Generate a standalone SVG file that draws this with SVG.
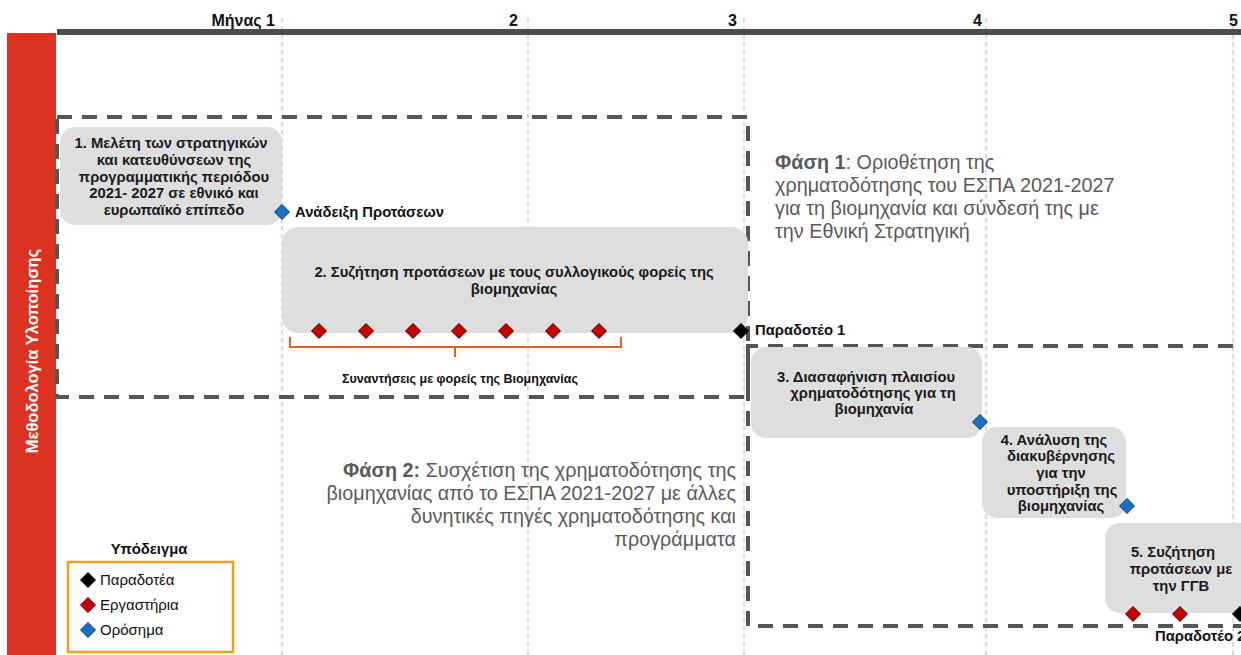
<svg xmlns="http://www.w3.org/2000/svg" width="1241" height="655" viewBox="0 0 1241 655">
<style>
.grid{stroke:#d4aab4;stroke-width:1;stroke-dasharray:5 3;fill:none}
.phase{stroke:#555;stroke-width:4;stroke-dasharray:15 10;fill:none}
.node{fill:#dedede}
.nt{font-family:"Liberation Sans",Arial,sans-serif;font-weight:bold;font-size:14.8px;fill:#1a1a1a;text-anchor:middle}
.lbl{font-family:"Liberation Sans",Arial,sans-serif;font-weight:bold;font-size:14.8px;fill:#111}
.small{font-size:12.5px}
.mon{font-family:"Liberation Sans",Arial,sans-serif;font-weight:bold;font-size:16px;fill:#111;text-anchor:end}
.ph{font-family:"Liberation Sans",Arial,sans-serif;font-size:19.8px;fill:#5a5a5a}
.leg{font-family:"Liberation Sans",Arial,sans-serif;font-size:15px;fill:#111}
.blue{fill:#1a6fc4;stroke:#0d3a6a;stroke-width:1}
.red{fill:#c40000;stroke:#4a0000;stroke-width:1}
.blk{fill:#000;stroke:#000;stroke-width:1}
</style>
<defs>
<path id="dm" d="M0,-7.5 L7.5,0 L0,7.5 L-7.5,0 Z"/>
</defs>
<rect width="1241" height="655" fill="#fff"/>

<g id="timeline">
<line class="grid" x1="282" y1="18" x2="282" y2="655"/>
<line class="grid" x1="528" y1="18" x2="528" y2="655"/>
<line class="grid" x1="744" y1="18" x2="744" y2="655"/>
<line class="grid" x1="986" y1="18" x2="986" y2="655"/>
<line class="grid" x1="1233" y1="18" x2="1233" y2="655"/>
<rect x="57" y="29" width="1184" height="6" fill="#4d4d4d"/>
<text class="mon" x="275" y="26">Μήνας 1</text>
<text class="mon" x="518" y="26">2</text>
<text class="mon" x="737" y="26">3</text>
<text class="mon" x="982" y="26">4</text>
<text class="mon" x="1238" y="26">5</text>
</g>

<g id="sidebar">
<rect x="7" y="33" width="49" height="622" fill="#dc3222"/>
<text x="38" y="351" transform="rotate(-90 38 351)" font-family="Liberation Sans,Arial,sans-serif" font-weight="bold" font-size="16.5" fill="#fff" text-anchor="middle">Μεθοδολογία Υλοποίησης</text>
</g>

<g id="connectors">
<path class="phase" d="M57,117 H748 V397 H57 Z"/>
<path class="phase" d="M1233,346 H748 V626 H1241"/>
<path d="M290,337 V347 H621 V337 M455,347 V357" fill="none" stroke="#e0601e" stroke-width="2"/>
</g>

<g id="phase1">
<text class="ph" x="775" y="169"><tspan font-weight="bold">Φάση 1</tspan>: Οριοθέτηση της</text>
<text class="ph" x="775" y="192">χρηματοδότησης του ΕΣΠΑ 2021-2027</text>
<text class="ph" x="775" y="215">για τη βιομηχανία και σύνδεσή της με</text>
<text class="ph" x="775" y="238">την Εθνική Στρατηγική</text>
</g>

<g id="phase2">
<text class="ph" x="736" y="477" text-anchor="end"><tspan font-weight="bold">Φάση 2:</tspan> Συσχέτιση της χρηματοδότησης της</text>
<text class="ph" x="736" y="500" text-anchor="end">βιομηχανίας από το ΕΣΠΑ 2021-2027 με άλλες</text>
<text class="ph" x="736" y="523" text-anchor="end">δυνητικές πηγές χρηματοδότησης και</text>
<text class="ph" x="736" y="546" text-anchor="end">προγράμματα</text>
</g>

<g id="node1">
<rect class="node" x="60" y="127" width="222" height="98" rx="15"/>
<text class="nt" x="171" y="148">1. Μελέτη των στρατηγικών</text>
<text class="nt" x="174" y="165">και κατευθύνσεων της</text>
<text class="nt" x="174" y="182">προγραμματικής περιόδου</text>
<text class="nt" x="174" y="198">2021- 2027 σε εθνικό και</text>
<text class="nt" x="174" y="215">ευρωπαϊκό επίπεδο</text>
</g>

<g id="milestone1">
<use href="#dm" class="blue" x="282" y="212"/>
<text class="lbl" x="295" y="217">Ανάδειξη Προτάσεων</text>
</g>

<g id="node2">
<rect class="node" x="282" y="227" width="466" height="106" rx="16"/>
<text class="nt" x="514" y="277">2. Συζήτηση προτάσεων με τους συλλογικούς φορείς της</text>
<text class="nt" x="514" y="294">βιομηχανίας</text>
<use href="#dm" class="red" x="319" y="331"/>
<use href="#dm" class="red" x="366" y="331"/>
<use href="#dm" class="red" x="413" y="331"/>
<use href="#dm" class="red" x="459" y="331"/>
<use href="#dm" class="red" x="506" y="331"/>
<use href="#dm" class="red" x="553" y="331"/>
<use href="#dm" class="red" x="599" y="331"/>
</g>

<g id="meetings">
<text class="lbl small" x="460" y="383" text-anchor="middle">Συναντήσεις με φορείς της Βιομηχανίας</text>
</g>

<g id="deliverable1">
<use href="#dm" class="blk" x="741" y="331"/>
<text class="lbl" x="755" y="335">Παραδοτέο 1</text>
</g>

<g id="node3">
<rect class="node" x="751" y="347" width="231" height="91" rx="15"/>
<text class="nt" x="866" y="382">3. Διασαφήνιση πλαισίου</text>
<text class="nt" x="873" y="398">χρηματοδότησης για τη</text>
<text class="nt" x="874" y="414">βιομηχανία</text>
<use href="#dm" class="blue" x="980" y="422"/>
</g>

<g id="node4">
<rect class="node" x="982" y="427" width="144" height="91" rx="15"/>
<text class="nt" x="1054" y="445">4. Ανάλυση της</text>
<text class="nt" x="1061" y="461">διακυβέρνησης</text>
<text class="nt" x="1061" y="478">για την</text>
<text class="nt" x="1062" y="495">υποστήριξη της</text>
<text class="nt" x="1061" y="511">βιομηχανίας</text>
<use href="#dm" class="blue" x="1127" y="506"/>
</g>

<g id="node5">
<rect class="node" x="1105" y="523" width="150" height="90" rx="15"/>
<text class="nt" x="1173" y="557">5. Συζήτηση</text>
<text class="nt" x="1181" y="574">προτάσεων με</text>
<text class="nt" x="1181" y="591">την ΓΓΒ</text>
<use href="#dm" class="red" x="1133" y="614"/>
<use href="#dm" class="red" x="1180" y="614"/>
</g>

<g id="deliverable2">
<use href="#dm" class="blk" x="1240" y="614"/>
<text class="lbl" x="1155" y="641">Παραδοτέο 2</text>
</g>

<g id="legend">
<text class="lbl" x="149" y="554" text-anchor="middle">Υπόδειγμα</text>
<rect x="68" y="562" width="165" height="90" fill="none" stroke="#f0a020" stroke-width="2.5"/>
<use href="#dm" class="blk" x="88" y="580"/>
<text class="leg" x="100" y="585">Παραδοτέα</text>
<use href="#dm" class="red" x="88" y="605"/>
<text class="leg" x="100" y="610">Εργαστήρια</text>
<use href="#dm" class="blue" x="88" y="630"/>
<text class="leg" x="100" y="635">Ορόσημα</text>
</g>
</svg>
